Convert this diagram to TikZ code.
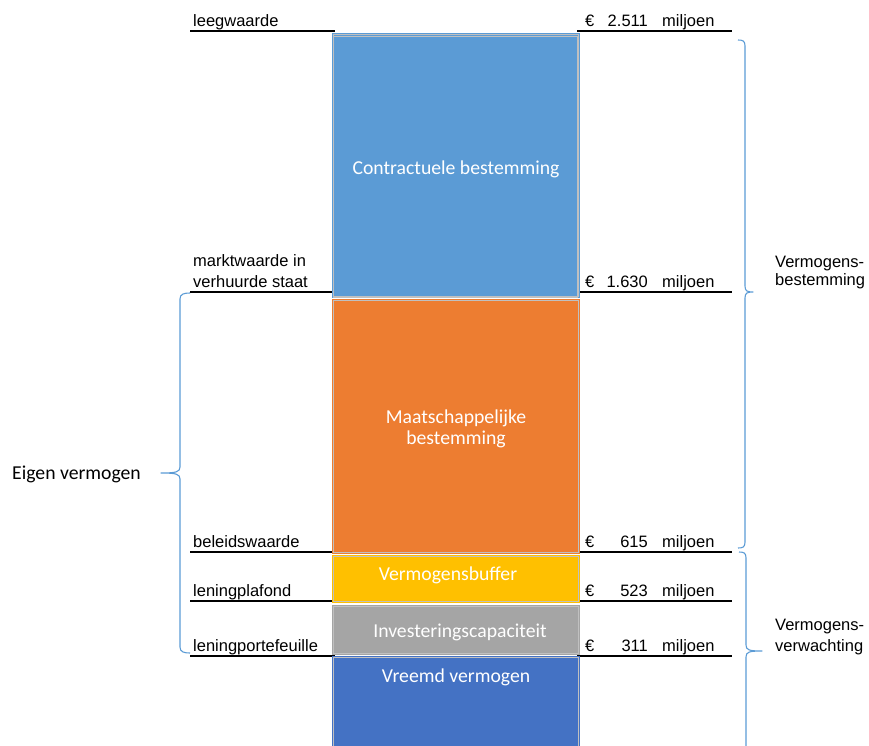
\documentclass[tikz,border=0pt]{standalone}
\usepackage{fontspec}
\setmainfont{Liberation Sans}
\newfontfamily\calibri{Carlito}
\definecolor{cblue}{HTML}{5B9BD5}
\definecolor{corange}{HTML}{ED7D31}
\definecolor{cyellow}{HTML}{FFC000}
\definecolor{cgrey}{HTML}{A5A5A5}
\definecolor{cdblue}{HTML}{4472C4}
\definecolor{cedge}{HTML}{C0C0C0}
\begin{document}
\begin{tikzpicture}[x=1pt,y=-1pt,
  lbl/.style={anchor=base west, inner sep=0pt, font=\fontsize{16.5}{19}\selectfont},
  amt/.style={anchor=base east, inner sep=0pt, font=\fontsize{16.5}{19}\selectfont},
  inbox/.style={anchor=base, inner sep=0pt, text=white, align=center,
    font=\calibri\fontsize{19.7}{21}\selectfont},
  block/.style={rectangle, inner sep=0pt, minimum width=248},
  edge/.style={draw=cedge, line width=1.2pt},
  rule/.style={draw=black, line width=1.8pt},
  brace/.style={draw=cblue, line width=1.1pt, line join=round}]
\useasboundingbox (0,0) rectangle (869,746);

% value levels: rules to the left and right of the column
\foreach \yy/\xl in {31/190, 292/190, 552/190, 601/190, 656/190}{
  \draw[rule] (\xl,\yy) -- (335,\yy);
  \draw[rule] (577,\yy) -- (732,\yy);
}

% stacked column
\node[block, fill=cblue,   minimum height=265] (contract) at (456,165.5) {};
\node[block, fill=corange, minimum height=255] (maatsch)  at (456,426.5) {};
\node[block, fill=cyellow, minimum height=48]  (buffer)   at (456,579)   {};
\node[block, fill=cgrey,   minimum height=50]  (invest)   at (456,630)   {};
\node[block, fill=cdblue,  minimum height=92]  (vreemd)   at (456,702)   {};
\foreach \b in {contract, maatsch, buffer, invest, vreemd}{
  \draw[edge] ([shift={(1.5,1.5)}]\b.north west) rectangle ([shift={(-1.5,-1.5)}]\b.south east);
}
\draw[edge] ([shift={(2,4)}]contract.north west) rectangle ([shift={(-3,-1)}]contract.south east);

% texts inside the column
\node[inbox] (tcontract) at (456,175) {Contractuele bestemming};
\node[inbox] (tmaatsch)  at (456,444) {Maatschappelijke\\bestemming};
\node[inbox] (tbuffer)   at (448,580) {Vermogensbuffer};
\node[inbox] (tinvest)   at (460,637) {Investeringscapaciteit};
\node[inbox] (tvreemd)   at (456,682) {Vreemd vermogen};

% level names
\node[lbl] (leeg)   at (193,26.5)  {leegwaarde};
\node[lbl] (markt1) at (193,266.5) {marktwaarde in};
\node[lbl] (markt2) at (193,287.5) {verhuurde staat};
\node[lbl] (beleid) at (193,547)   {beleidswaarde};
\node[lbl] (plaf)   at (193,596)   {leningplafond};
\node[lbl] (portef) at (193,651)   {leningportefeuille};

% amounts
\foreach \n/\yy/\v in {a/26.5/2.511, b/287.5/1.630, c/547/615, d/596/523, e/651/311}{
  \node[lbl] (eur\n) at (585,\yy) {€};
  \node[amt] (val\n) at (648,\yy) {\v};
  \node[lbl] (mil\n) at (662,\yy) {miljoen};
}

% braces
\draw[brace] (738,40) .. controls (743,40) and (745,41) .. (745,46)
  -- (745,286) .. controls (745,291) and (747,292) .. (753,292)
  .. controls (747,292) and (745,293) .. (745,298)
  -- (745,542) .. controls (745,547) and (743,548) .. (738,548);
\draw[brace] (739,552) .. controls (744,552) and (746,553) .. (746,558)
  -- (746,645) .. controls (746,650) and (749,651) .. (762,651)
  .. controls (749,651) and (746,652) .. (746,657) -- (746,750);
\draw[brace] (190,293) .. controls (184,293) and (180,294) .. (180,299)
  -- (180,467) .. controls (180,472) and (176,473) .. (161,473)
  .. controls (176,473) and (180,474) .. (180,479)
  -- (180,647) .. controls (180,652) and (184,653) .. (190,653);

% brace captions
\node[lbl] (vbest1) at (775,267) {Vermogens-};
\node[lbl] (vbest2) at (775,285) {bestemming};
\node[lbl] (vverw1) at (775,630) {Vermogens-};
\node[lbl] (vverw2) at (775,651) {verwachting};
\node[anchor=base west, inner sep=0pt, font=\calibri\fontsize{19.7}{22}\selectfont] (eigen) at (12,479) {Eigen vermogen};
\end{tikzpicture}
\end{document}
